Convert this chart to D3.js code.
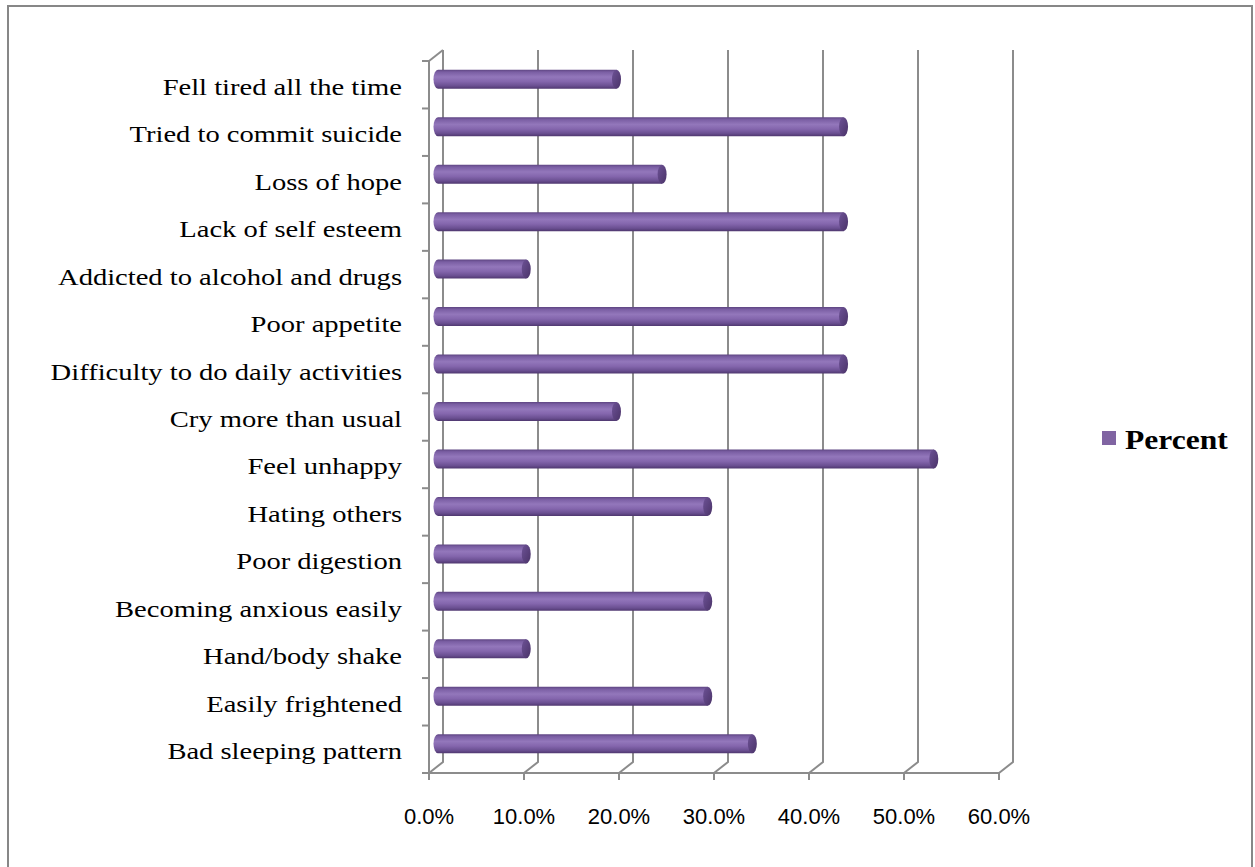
<!DOCTYPE html>
<html>
<head>
<meta charset="utf-8">
<script src="https://cdn.jsdelivr.net/npm/d3@7"></script>
<style>
  html, body { margin: 0; padding: 0; background: #fff; }
  svg { display: block; }
</style>
</head>
<body>
<svg id="chart" width="1255" height="867"></svg>
<script>
// Symptoms listed bottom-to-top as they appear on the vertical axis
const categories = [
  "Bad sleeping pattern",
  "Easily frightened",
  "Hand/body shake",
  "Becoming anxious easily",
  "Poor digestion",
  "Hating others",
  "Feel unhappy",
  "Cry more than usual",
  "Difficulty to do daily activities",
  "Poor appetite",
  "Addicted to alcohol and drugs",
  "Lack of self esteem",
  "Loss of hope",
  "Tried to commit suicide",
  "Fell tired all the time"
];
const percentValues = [
  0.333, 0.286, 0.095, 0.286, 0.095, 0.286, 0.524, 0.19,
  0.429, 0.429, 0.095, 0.429, 0.238, 0.429, 0.19
];
const xTicks = [0, 0.1, 0.2, 0.3, 0.4, 0.5, 0.6];
const seriesName = "Percent";

const svg = d3.select("#chart");
const textStretch = 1.19; // serif text is set slightly wide

// outer chart frame
svg.append("rect")
  .attr("x", 8).attr("y", 6).attr("width", 1244).attr("height", 880)
  .attr("fill", "none").attr("stroke", "#878787").attr("stroke-width", 2);

// front plane geometry and wall depth offset
const x = d3.scaleLinear().domain([0, 0.6]).range([429, 999]);
const y = d3.scaleBand().domain(categories.slice().reverse()).range([61, 773]);
const depthX = 14, depthY = -11;
const gridColor = "#8c8c8c";

const defs = svg.append("defs");
const grad = defs.append("linearGradient")
  .attr("id", "cyl").attr("x1", 0).attr("y1", 0).attr("x2", 0).attr("y2", 1);
[[0, "#5e4582"], [0.12, "#7a5ea3"], [0.38, "#9377bb"], [0.62, "#8466ad"], [0.85, "#6a4f91"], [1, "#4f376f"]]
  .forEach(([o, c]) => grad.append("stop").attr("offset", o).attr("stop-color", c));
const capGrad = defs.append("linearGradient")
  .attr("id", "cap").attr("x1", 0).attr("y1", 0).attr("x2", 1).attr("y2", 1);
[[0, "#6d5296"], [1, "#4a3368"]]
  .forEach(([o, c]) => capGrad.append("stop").attr("offset", o).attr("stop-color", c));

const grid = svg.append("g").attr("fill", "none").attr("stroke", gridColor).attr("stroke-width", 2);

// back-wall gridlines with floor diagonals
xTicks.forEach(t => {
  const fx = x(t);
  grid.append("path")
    .attr("d", `M${fx},${y.range()[1]} L${fx + depthX},${y.range()[1] + depthY} L${fx + depthX},${y.range()[0] + depthY}`);
});
// top-left wall corner
grid.append("path")
  .attr("d", `M${x(0)},${y.range()[0]} L${x(0) + depthX},${y.range()[0] + depthY}`);

// front vertical axis and floor edge
grid.append("line")
  .attr("x1", x(0)).attr("x2", x(0))
  .attr("y1", y.range()[0]).attr("y2", y.range()[1]);
grid.append("line")
  .attr("x1", x(0)).attr("x2", x(0.6))
  .attr("y1", y.range()[1]).attr("y2", y.range()[1]);

// category boundary ticks on the left axis
const bounds = d3.range(categories.length + 1).map(i => y.range()[0] + i * y.step());
grid.selectAll(".ytick").data(bounds).join("line")
  .attr("x1", x(0) - 7).attr("x2", x(0))
  .attr("y1", d => d).attr("y2", d => d);
// value ticks below the floor
grid.selectAll(".xtick").data(xTicks).join("line")
  .attr("x1", d => x(d)).attr("x2", d => x(d))
  .attr("y1", y.range()[1]).attr("y2", y.range()[1] + 7);

// x tick labels
svg.append("g").selectAll("text").data(xTicks).join("text")
  .attr("x", d => x(d)).attr("y", 824)
  .attr("text-anchor", "middle")
  .attr("font-family", "'Liberation Sans', Arial, sans-serif")
  .attr("font-size", 22).attr("fill", "#000")
  .text(d3.format(".1%"));

// category labels
svg.append("g").selectAll("text").data(categories).join("text")
  .attr("transform", d => `translate(402,${y(d) + y.bandwidth() / 2 + 10}) scale(${textStretch},1)`)
  .attr("text-anchor", "end")
  .attr("font-family", "'Liberation Serif', 'Times New Roman', serif")
  .attr("font-size", 24).attr("fill", "#000")
  .text(d => d);

// cylinders, set halfway into the depth
const barH = 19, capRx = 4.5;
const bars = svg.append("g");
categories.forEach((c, i) => {
  const v = percentValues[i];
  const cy = y(c) + y.bandwidth() / 2 + depthY / 2;
  const x0 = x(0) + depthX / 2 + 2;
  const x1 = x(v) + depthX / 2;
  const top = cy - barH / 2, bot = cy + barH / 2;
  bars.append("path")
    .attr("d", `M${x1},${top} L${x0},${top} A${capRx},${barH / 2} 0 0 0 ${x0},${bot} L${x1},${bot} Z`)
    .attr("fill", "url(#cyl)");
  bars.append("ellipse")
    .attr("cx", x1).attr("cy", cy).attr("rx", capRx).attr("ry", barH / 2)
    .attr("fill", "url(#cap)");
});

// legend
const lg = svg.append("g").attr("transform", "translate(1102,431)");
lg.append("rect").attr("width", 14).attr("height", 14).attr("fill", "#8064a2");
lg.append("text")
  .attr("transform", `translate(23,18) scale(${textStretch},1)`)
  .attr("font-family", "'Liberation Serif', 'Times New Roman', serif")
  .attr("font-size", 26.5).attr("font-weight", "bold").attr("fill", "#000")
  .text(seriesName);
</script>
</body>
</html>
